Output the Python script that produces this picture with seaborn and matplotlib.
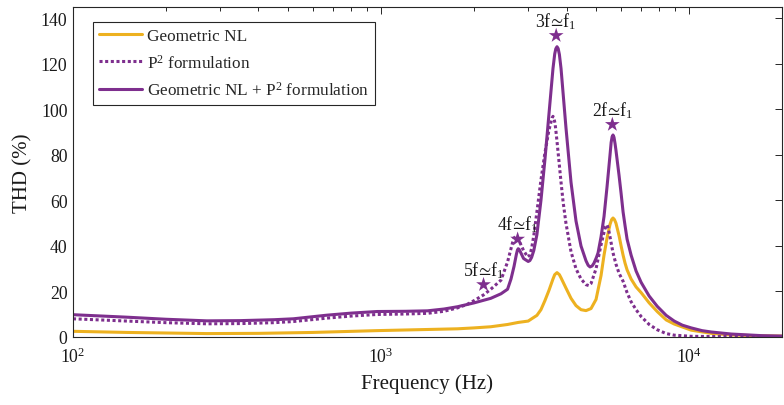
import numpy as np
import pandas as pd
import matplotlib
matplotlib.use("Agg")
import matplotlib.pyplot as plt
import seaborn as sns
from matplotlib.ticker import LogLocator, NullFormatter, LogFormatterSciNotation

# ---------------- data ----------------
geo_freq = [100, 150, 272, 400, 600, 970, 1413, 1770, 2004, 2270, 2573, 2786, 3002, 3064,
            3204, 3302, 3402, 3506, 3613, 3660, 3723, 3790, 3837, 3981, 4134, 4291, 4455,
            4624, 4801, 4984, 5174, 5291, 5411, 5533, 5600, 5658, 5720, 5785, 5920, 6012,
            6100, 6190, 6286, 6477, 6723, 6982, 7413, 7872, 8420, 8940, 10150, 11790,
            13700, 17150, 20200]
geo_thd = [2.5, 2.0, 1.5, 1.6, 2.0, 2.8, 3.3, 3.6, 4.0, 4.5, 5.5, 6.4, 7.0, 7.8,
           9.5, 12, 16, 20.5, 25.5, 27.4, 28.3, 27.4, 26.0, 21.5, 17, 13.8, 12,
           11.6, 12.5, 16.5, 27, 36, 43.5, 49.5, 51.6, 52.3, 51.6, 50, 44.5, 40,
           36, 32.5, 29.5, 25.5, 22, 19.5, 15, 11.2, 7.5, 5.7, 3, 1.6,
           0.9, 0.5, 0.4]

p2_freq = [100, 150, 200, 272, 350, 450, 519, 668, 800, 970, 1200, 1413, 1600, 1770, 1900,
           2004, 2150, 2270, 2450, 2573, 2671, 2705, 2737, 2770, 2800, 2900, 2990, 3040,
           3080, 3130, 3204, 3302, 3402, 3506, 3560, 3590, 3613, 3640, 3668, 3690, 3723,
           3780, 3837, 3900, 3981, 4134, 4291, 4455, 4624, 4720, 4801, 4984, 5174, 5291,
           5350, 5411, 5470, 5533, 5658, 5785, 5920, 6100, 6286, 6477, 6723, 6982, 7413,
           7872, 8420, 8940, 10150, 11790, 13700, 20200]
p2_thd = [8.0, 7.0, 6.3, 5.8, 5.9, 6.3, 6.8, 8.3, 9.2, 9.9, 10.1, 10.4, 11.3, 12.8, 14.3,
          16.0, 18.5, 21, 25, 33, 41.5, 43.6, 44.3, 43.8, 42.5, 38, 35.2, 36,
          39, 44.5, 55, 69, 81, 91, 94.5, 96.3, 97, 96, 94, 91, 86,
          77, 68, 59, 50, 37.5, 30, 25.5, 23, 22.6, 23.5, 30, 40.5, 46,
          48.5, 49.3, 47.5, 44, 37, 32, 28, 24.5, 19.5, 15.5, 12, 9, 5.5,
          3.2, 1.5, 0.8, 0.3, 0.2, 0.2, 0.2]

both_freq = [100, 150, 200, 272, 350, 450, 519, 668, 800, 970, 1200, 1413, 1600, 1770, 2004,
             2270, 2450, 2573, 2640, 2700, 2750, 2770, 2786, 2805, 2830, 2900, 3002, 3040,
             3080, 3130, 3204, 3302, 3402, 3506, 3613, 3660, 3690, 3723, 3755, 3790, 3837,
             3981, 4134, 4291, 4455, 4624, 4700, 4765, 4840, 4910, 5000, 5060, 5174, 5291,
             5411, 5533, 5580, 5620, 5658, 5700, 5745, 5785, 5920, 6012, 6100, 6190, 6286,
             6477, 6723, 6982, 7413, 7872, 8420, 8940, 9500, 10150, 11000, 11790, 13700,
             17150, 20200]
both_thd = [9.8, 8.7, 7.8, 7.1, 7.2, 7.6, 8.0, 9.6, 10.5, 11.2, 11.3, 11.5, 12.3, 13.3, 15.0,
            17.0, 19.0, 21.0, 25.5, 31.0, 36.5, 38.2, 38.8, 38.5, 37.5, 34.5, 33.2, 33.6,
            35, 38, 45, 60, 78, 98, 118, 124.4, 126.7, 127.6, 126.8, 124.2, 118,
            92, 68, 51, 40, 33.5, 31.5, 30.8, 31.2, 32.5, 35, 37, 44, 53,
            66, 80, 85.5, 88, 88.8, 87.8, 85, 82, 71, 63, 55, 49, 43,
            36, 29, 24, 18, 13.5, 9.5, 7, 5.2, 4, 2.8, 2.2, 1.3,
            0.6, 0.4]

series_labels = ["Geometric NL", "P$^2$ formulation", "Geometric NL + P$^2$ formulation"]

star_freq = [2150, 2774, 3700, 5630]
star_thd = [23, 43, 132.5, 93.4]
star_labels = [r"5f$\!\simeq\!$f$_1$", r"4f$\!\simeq\!$f$_1$",
               r"3f$\!\simeq\!$f$_1$", r"2f$\!\simeq\!$f$_1$"]

x_ticks = [1e2, 1e3, 1e4]
y_ticks = [0, 20, 40, 60, 80, 100, 120, 140]

# ---------------- style ----------------
sns.set_theme(style="white")
plt.rcParams["font.family"] = ["Liberation Serif", "DejaVu Serif"]
plt.rcParams["mathtext.fontset"] = "custom"
plt.rcParams["mathtext.rm"] = "Liberation Serif"
plt.rcParams["mathtext.it"] = "Liberation Serif:italic"
plt.rcParams["mathtext.bf"] = "Liberation Serif:bold"
plt.rcParams["mathtext.fallback"] = "stix"

yellow = "#EDB120"
purple = "#7E2F8E"
axcol = "#262626"
txtcol = "#1a1a1a"

fig, ax = plt.subplots(figsize=(7.84, 4.06), dpi=100)
fig.subplots_adjust(left=0.0931, right=0.9974, bottom=0.1675, top=0.980)

df_geo = pd.DataFrame({"f": geo_freq, "thd": geo_thd})
df_p2 = pd.DataFrame({"f": p2_freq, "thd": p2_thd})
df_both = pd.DataFrame({"f": both_freq, "thd": both_thd})

sns.lineplot(data=df_geo, x="f", y="thd", ax=ax, color=yellow, linewidth=2.2,
             label=series_labels[0], sort=False)
sns.lineplot(data=df_p2, x="f", y="thd", ax=ax, color=purple, linewidth=2.2,
             linestyle=(0, (1, 0.85)), label=series_labels[1], sort=False)
sns.lineplot(data=df_both, x="f", y="thd", ax=ax, color=purple, linewidth=2.2,
             label=series_labels[2], sort=False)

df_star = pd.DataFrame({"f": star_freq, "thd": star_thd})
sns.scatterplot(data=df_star, x="f", y="thd", ax=ax, marker="*", s=125,
                color=purple, edgecolor="none", zorder=5, legend=False)
for fx, fy, lab in zip(star_freq, star_thd, star_labels):
    ax.annotate(lab, (fx, fy), xytext=(0, 3.5), textcoords="offset points",
                ha="center", va="bottom", fontsize=12.8, color=txtcol)

ax.set_xscale("log")
ax.set_xlim(100, 20000)
ax.set_ylim(0, 145)
ax.set_xticks(x_ticks)
ax.xaxis.set_major_formatter(LogFormatterSciNotation())
ax.xaxis.set_minor_locator(LogLocator(base=10, subs=np.arange(2, 10)))
ax.xaxis.set_minor_formatter(NullFormatter())
ax.set_yticks(y_ticks)

ax.tick_params(which="both", direction="in", top=True, right=True, color=axcol,
               width=0.7, labelsize=12.8, labelcolor=txtcol)
ax.tick_params(which="major", length=5)
ax.tick_params(which="minor", length=3)
ax.tick_params(axis="x", which="major", pad=7)
ax.tick_params(axis="y", which="major", pad=4)
for sp in ax.spines.values():
    sp.set_color(axcol)
    sp.set_linewidth(0.8)

ax.set_xlabel("Frequency (Hz)", fontsize=15, color=txtcol, labelpad=5)
ax.set_ylabel("THD (%)", fontsize=15, color=txtcol, labelpad=6)

leg = ax.legend(loc="upper left", bbox_to_anchor=(0.028, 0.955), borderaxespad=0,
                fontsize=12.4, handlelength=2.5, handletextpad=0.3, labelspacing=0.55,
                borderpad=0.35, fancybox=False, framealpha=1, edgecolor=axcol)
leg.get_frame().set_linewidth(0.8)

fig.savefig("out.png", dpi=100)
